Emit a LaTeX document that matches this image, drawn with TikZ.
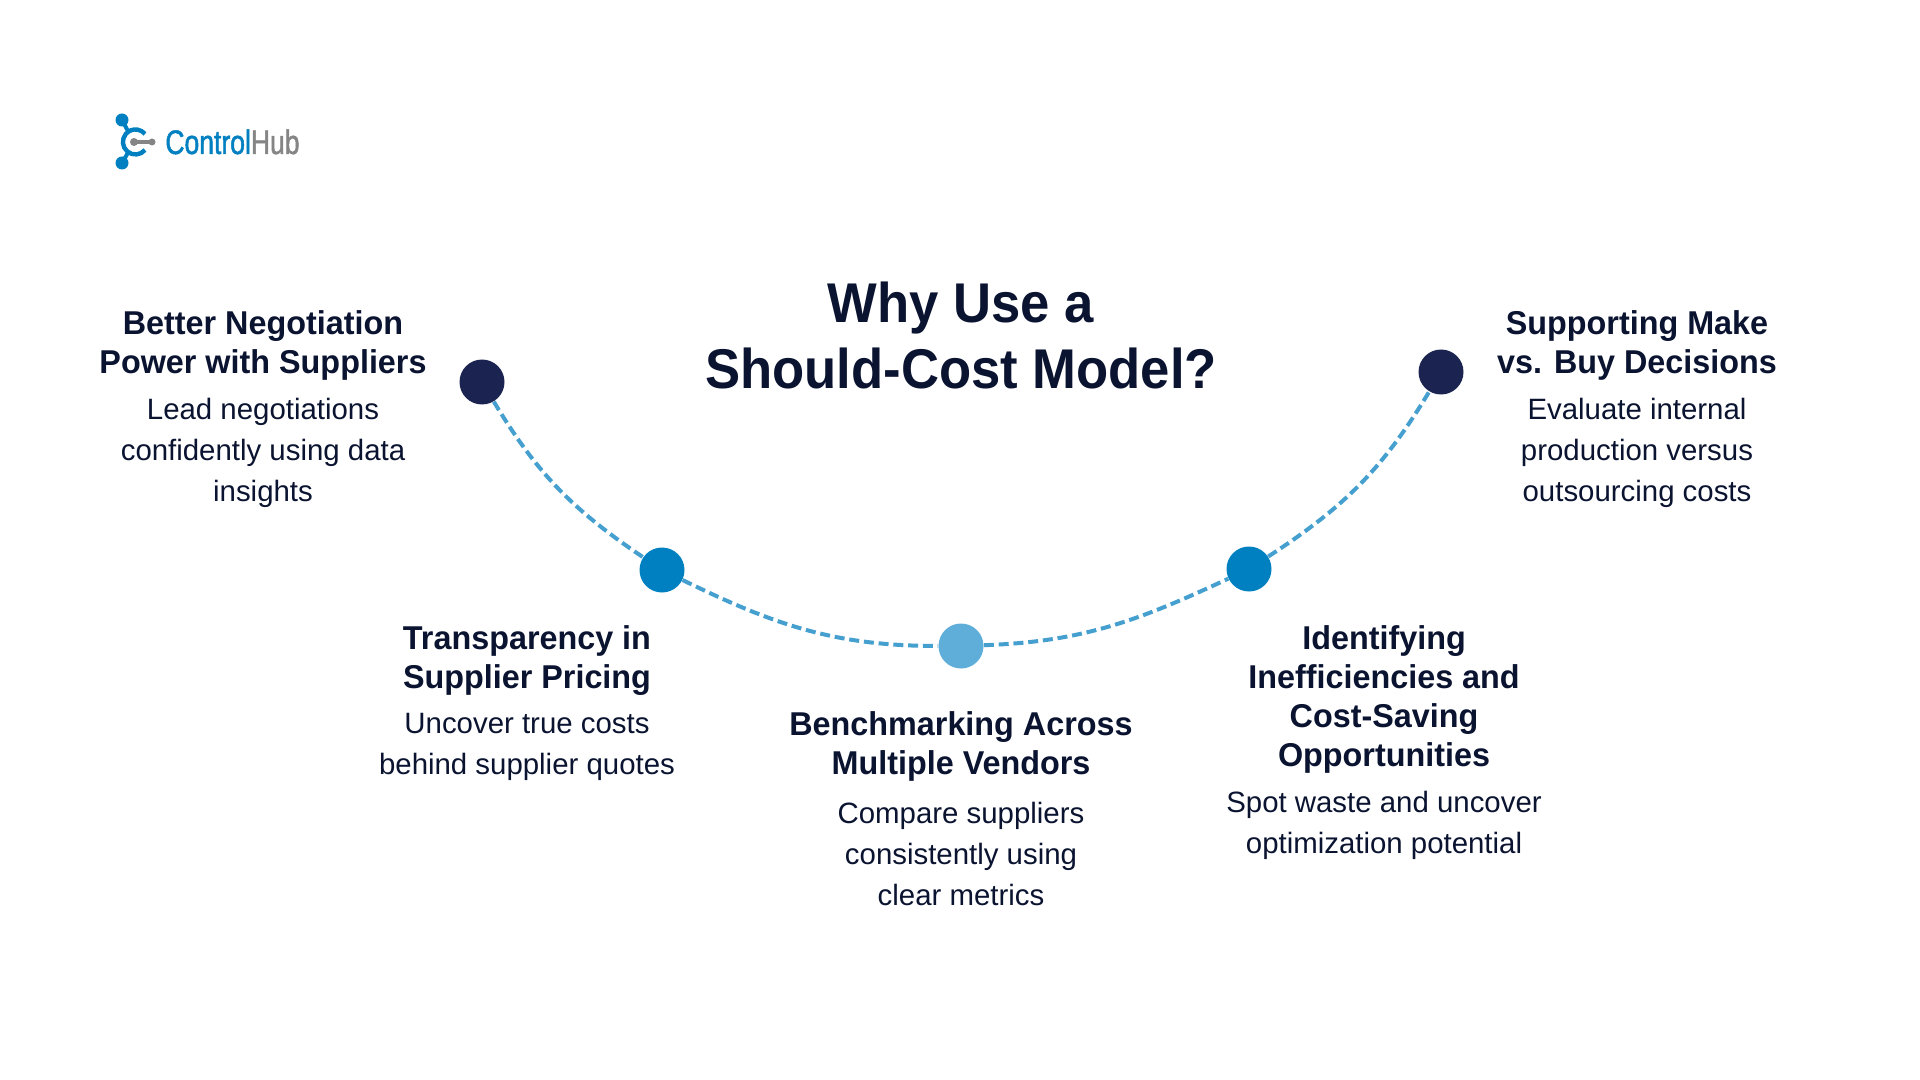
\documentclass[tikz,border=0pt]{standalone}
\usepackage{fontspec}
\setmainfont{Liberation Sans}
\newfontfamily\logofont[FakeStretch=0.78,FakeBold=1.4]{Liberation Sans}
\newfontfamily\titlefont[FakeStretch=0.94]{Liberation Sans}
\newfontfamily\headfont[FakeStretch=0.98]{Liberation Sans}
\definecolor{inkdark}{HTML}{0A1330}
\definecolor{navydot}{HTML}{1B2450}
\definecolor{bluedot}{HTML}{0080C0}
\definecolor{skydot}{HTML}{5FADD9}
\definecolor{dashblue}{HTML}{459FCF}
\definecolor{logogray}{HTML}{858585}
\tikzset{
  heading/.style = {align = center, text = inkdark, inner sep = 0pt, font = \headfont\fontsize{16.5}{19.5}\selectfont\bfseries},
  body/.style = {align = center, text = inkdark, inner sep = 0pt, font = \fontsize{14.7}{20.5}\selectfont},
  dot/.style = {circle, inner sep = 0pt, minimum size = 22.5pt},
  link/.style = {draw = dashblue, line width = 2pt, dash pattern = on 5pt off 2.4pt},
}

\begin{document}
\begin{tikzpicture}[x = 0.5pt, y = -0.5pt]
\useasboundingbox (0,0) rectangle (1920,1080);
\node[dot, fill = navydot] (negotiation) at (482,382) {};
\node[dot, fill = bluedot] (transparency) at (662,570) {};
\node[dot, fill = skydot] (benchmark) at (961,646) {};
\node[dot, fill = bluedot] (savings) at (1249,569) {};
\node[dot, fill = navydot] (makebuy) at (1441,372) {};
\draw[link] (negotiation) to[out = -59, in = 146] (transparency);
\draw[link] (transparency) to[out = -26, in = 180] (benchmark);
\draw[link] (benchmark) to[out = 2, in = 205] (savings);
\draw[link] (savings) to[out = 33, in = 239] (makebuy);
\node[align = center, text = inkdark, inner sep = 0pt, font = \titlefont\fontsize{28}{33}\selectfont\bfseries] (title) at (961,335) {Why Use a\\Should-Cost Model?};
\node[heading] (negotiationhead) at (263,345) {Better Negotiation\\Power with Suppliers};
\node[body] (negotiationtext) at (263,453) {Lead negotiations\\confidently using data\\insights};
\node[heading] (transparencyhead) at (527,661) {Transparency in\\Supplier Pricing};
\node[body] (transparencytext) at (527,747) {Uncover true costs\\behind supplier quotes};
\node[heading] (benchmarkhead) at (961,746) {Benchmarking Across\\Multiple Vendors};
\node[body] (benchmarktext) at (961,854) {Compare suppliers\\consistently using\\clear metrics};
\node[heading] (savingshead) at (1384,699) {Identifying\\Inefficiencies and\\Cost-Saving\\Opportunities};
\node[body] (savingstext) at (1384,825) {Spot waste and uncover\\optimization potential};
\node[heading] (makebuyhead) at (1637,345) {Supporting Make\\vs. Buy Decisions};
\node[body] (makebuytext) at (1637,453) {Evaluate internal\\production versus\\outsourcing costs};
\draw[bluedot, line width = 2pt] (122,120) -- (129,133);
\draw[bluedot, line width = 2pt] (122,163) -- (129,151);
\draw[bluedot, line width = 2.2pt] (145,150) arc (40:320:12.5);
\fill[bluedot] (122,120) circle (6.5);
\fill[bluedot] (122,163) circle (6.5);
\draw[logogray, line width = 1.6pt] (134,142) -- (152,142);
\fill[logogray] (134,142) circle (4);
\fill[logogray] (152,142) circle (3.5);
\node[anchor = base west, inner sep = 0pt, font = \logofont\fontsize{17}{20}\selectfont] (logo) at (165,154) {\textcolor{bluedot}{Control}\textcolor{logogray}{Hub}};
\end{tikzpicture}
\end{document}
